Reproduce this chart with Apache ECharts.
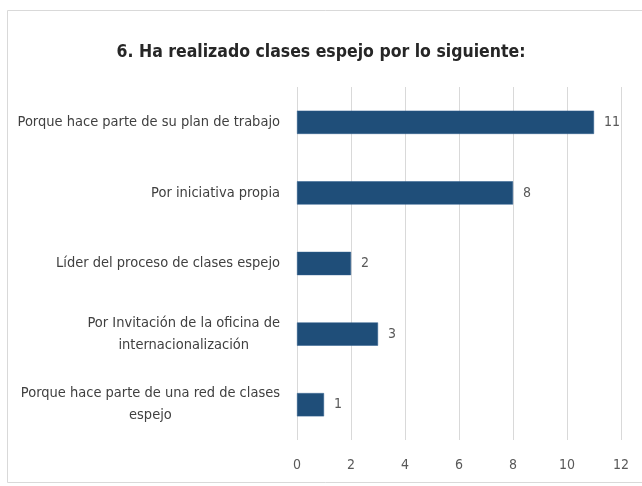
<!DOCTYPE html>
<html><head><meta charset="utf-8">
<script src="https://cdn.jsdelivr.net/npm/echarts@6/dist/echarts.min.js"></script>
<style>html,body{margin:0;padding:0;background:#fff}#c{width:642px;height:486px}</style>
</head><body><div id="c"></div>
<script>
const titleText = '6. Ha realizado clases espejo por lo siguiente:';
const categories = [
  'Porque hace parte de su plan de trabajo',
  'Por iniciativa propia',
  'Líder del proceso de clases espejo',
  'Por Invitación de la oficina de\ninternacionalización',
  'Porque hace parte de una red de clases\nespejo'
];
const values = [11, 8, 2, 3, 1];
const xTicks = [0, 2, 4, 6, 8, 10, 12];

const font = '"Liberation Sans Narrow", "DejaVu Sans Condensed", sans-serif';
const chart = echarts.init(document.getElementById('c'));
chart.setOption({
  animation: false,
  graphic: [{
    type: 'rect', shape: {x: 7.5, y: 10.5, width: 660, height: 472},
    style: {fill: 'none', stroke: '#d9d9d9', lineWidth: 1}, silent: true
  }],
  title: {
    text: titleText, left: 'center', top: 38,
    textStyle: {fontFamily: font, fontSize: 17.5, fontWeight: 'bold', color: '#262626'}
  },
  grid: {left: 297, right: 21, top: 87, bottom: 46},
  xAxis: {
    type: 'value', min: xTicks[0], max: xTicks[xTicks.length - 1], interval: 2,
    axisLine: {show: false}, axisTick: {show: false},
    splitLine: {lineStyle: {color: '#d9d9d9', width: 1}},
    axisLabel: {fontFamily: font, fontSize: 14, color: '#595959', margin: 18}
  },
  yAxis: {
    type: 'category', data: categories, inverse: true,
    axisLine: {show: false}, axisTick: {show: false},
    axisLabel: {
      margin: 17, align: 'right',
      formatter: v => v.split('\n').map(s => '{a|' + s + '}').join('\n'),
      rich: {a: {fontFamily: font, fontSize: 14.5, color: '#404040', lineHeight: 22, align: 'center'}}
    }
  },
  series: [{
    type: 'bar', data: values, barWidth: '33%',
    itemStyle: {color: '#1f4e79', borderColor: '#2e5f8e', borderWidth: 0.5},
    label: {show: true, position: 'right', distance: 10, fontFamily: font, fontSize: 14, color: '#595959'}
  }]
});
</script></body></html>
